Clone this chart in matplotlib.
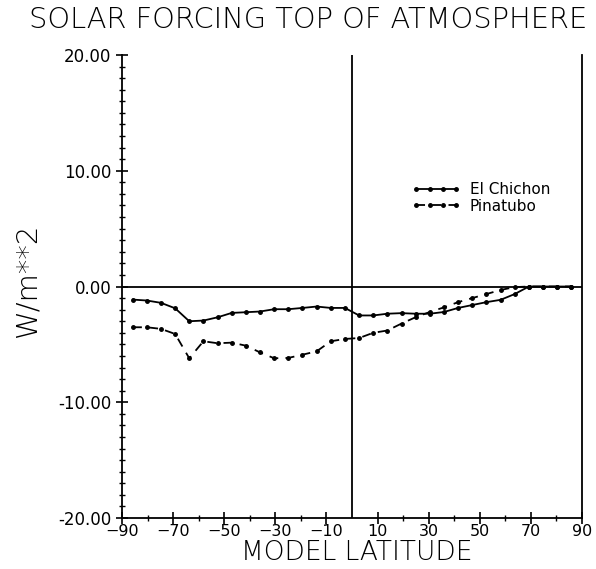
import numpy as np
import matplotlib
matplotlib.use("Agg")
import matplotlib.pyplot as plt
from matplotlib.ticker import MultipleLocator, FixedLocator

# Latitudes del modelo (grilla gaussiana T21, 32 puntos)
lats_nh = [2.77, 8.30, 13.84, 19.38, 24.92, 30.46, 36.00, 41.53,
           47.07, 52.61, 58.14, 63.68, 69.21, 74.74, 80.27, 85.76]
latitudes = [-l for l in lats_nh[::-1]] + lats_nh

# Forzamiento solar en el tope de la atmosfera (W/m**2)
el_chichon = [-1.13, -1.21, -1.41, -1.88, -3.00, -2.94, -2.66, -2.28,
              -2.22, -2.16, -1.96, -1.96, -1.85, -1.73, -1.85, -1.85,
              -2.50, -2.50, -2.35, -2.30, -2.35, -2.35, -2.20, -1.85,
              -1.60, -1.35, -1.15, -0.65, 0.0, 0.0, 0.0, 0.0]
pinatubo = [-3.52, -3.52, -3.66, -4.10, -6.20, -4.73, -4.90, -4.85,
            -5.11, -5.69, -6.20, -6.17, -5.89, -5.60, -4.73, -4.53,
            -4.45, -4.00, -3.80, -3.20, -2.65, -2.20, -1.80, -1.35,
            -1.00, -0.65, -0.30, -0.05, 0.0, 0.0, 0.0, 0.0]

x_ticks = [-90, -70, -50, -30, -10, 10, 30, 50, 70, 90]
y_ticks = [20, 10, 0, -10, -20]

fig = plt.figure(figsize=(5.96, 5.69), dpi=100)
ax = fig.add_axes([0.2047, 0.0896, 0.7718, 0.8137])

ax.plot(latitudes, el_chichon, color="black", lw=1.3, marker="o",
        markersize=2.5, label="El Chichon")
ax.plot(latitudes, pinatubo, color="black", lw=1.3, ls=(0, (5, 4)),
        marker="o", markersize=2.5, label="Pinatubo")

ax.axhline(0, color="black", lw=1.3)
ax.axvline(0, color="black", lw=1.3)

ax.set_xlim(-90, 90)
ax.set_ylim(-20, 20)
ax.xaxis.set_major_locator(FixedLocator(x_ticks))
ax.xaxis.set_minor_locator(FixedLocator([-80, -60, -40, -20, 20, 40, 60, 80]))
ax.yaxis.set_major_locator(FixedLocator(y_ticks))
ax.yaxis.set_minor_locator(MultipleLocator(1))
ax.set_yticklabels(["%.2f" % v for v in y_ticks])

ax.spines["top"].set_visible(False)
for s in ["left", "bottom", "right"]:
    ax.spines[s].set_linewidth(1.3)

ax.tick_params(axis="both", which="major", direction="inout", length=8,
               width=1.2, labelsize=12)
ax.tick_params(axis="both", which="minor", direction="inout", length=5,
               width=1.0)
ax.tick_params(axis="x", pad=0, labelsize=11.5)

ax.set_xlabel("MODEL LATITUDE", fontsize=19, fontweight="light")
ax.xaxis.set_label_coords(0.51, -0.047)
ax.set_ylabel("W/m**2", fontsize=21, fontweight="light")
ax.yaxis.set_label_coords(-0.175, 0.515)
fig.suptitle("SOLAR FORCING TOP OF ATMOSPHERE", fontsize=20.8,
             fontweight="light", x=0.517, y=0.99)

ax.legend(loc="upper left", bbox_to_anchor=(0.6, 0.755), frameon=False,
          numpoints=4, handlelength=3.2, fontsize=11, labelspacing=0.1,
          handletextpad=0.6)

fig.savefig("out.png", dpi=100)
